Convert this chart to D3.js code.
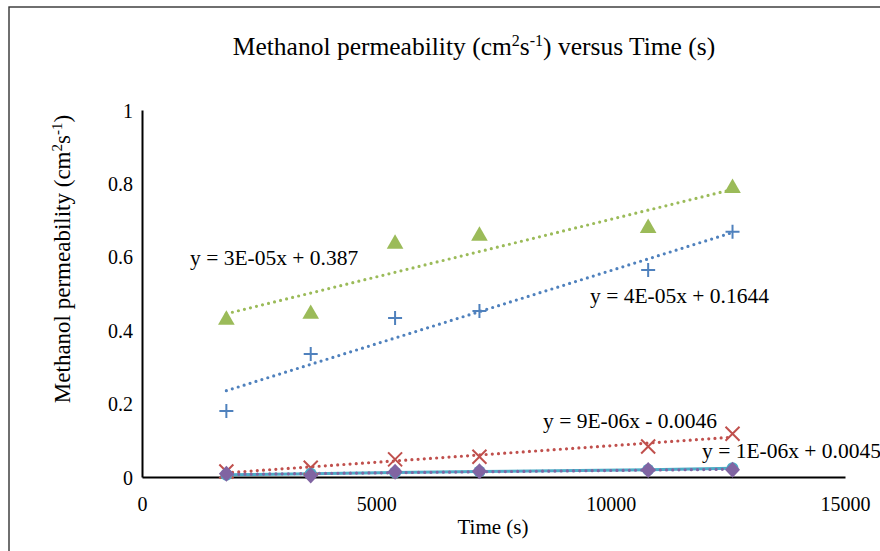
<!DOCTYPE html>
<html>
<head>
<meta charset="utf-8">
<script src="https://cdn.jsdelivr.net/npm/d3@7"></script>
<style>
  body { margin: 0; background: #fff; }
  svg text { font-family: "Liberation Serif", "Times New Roman", serif !important; fill: #000; }
</style>
</head>
<body>
<div id="chart-area"></div>
<script>
// data
var times = [1800, 3600, 5400, 7200, 10800, 12600];
var seriesBlue = [0.180, 0.335, 0.433, 0.452, 0.564, 0.668];
var seriesRed = [0.015, 0.025, 0.048, 0.055, 0.083, 0.118];
var seriesGreen = [0.428, 0.444, 0.635, 0.657, 0.678, 0.787];
var seriesPurple = [0.009, 0.004, 0.014, 0.016, 0.019, 0.020];
var seriesCyan = [0.006, 0.009, 0.012, 0.015, 0.020, 0.024];
var xTicks = [0, 5000, 10000, 15000];
var yTicks = [0, 0.2, 0.4, 0.6, 0.8, 1];
var trendLabels = ["y = 3E-05x + 0.387", "y = 4E-05x + 0.1644", "y = 9E-06x - 0.0046", "y = 1E-06x + 0.0045"];

var FONT = "Liberation Serif, Times New Roman, serif";
var margin = { left: 142, top: 110, right: 34, bottom: 74 };
var W = 880, H = 551;
var width = W - margin.left - margin.right,
    height = H - margin.top - margin.bottom;

var svg = d3.select("#chart-area").append("svg")
    .attr("width", W)
    .attr("height", H)
    .attr("font-family", FONT);

svg.append("rect").attr("width", W).attr("height", H).attr("fill", "#fff");
// chart frame (runs off the right and bottom of the picture)
svg.append("rect")
    .attr("x", 9).attr("y", 7)
    .attr("width", 1000).attr("height", 1000)
    .attr("fill", "none")
    .attr("stroke", "#333")
    .attr("stroke-width", 1.4);

var g = svg.append("g").attr("transform", "translate(" + margin.left + "," + margin.top + ")");

var x = d3.scaleLinear().domain([0, 15000]).range([0, 703]);
var y = d3.scaleLinear().domain([0, 1]).range([height, 0]);

// Title
svg.append("text")
    .attr("x", 474).attr("y", 55)
    .attr("text-anchor", "middle")
    .attr("font-size", "25.5px")
    .html('Methanol permeability (cm<tspan dy="-9" font-size="16px">2</tspan><tspan dy="9">s</tspan><tspan dy="-9" font-size="16px">-1</tspan><tspan dy="9">) versus Time (s)</tspan>');

// Axes (no tick marks)
var bottomAxis = d3.axisBottom(x).tickValues(xTicks).tickSize(0).tickPadding(20).tickFormat(d3.format("d"));
var leftAxis = d3.axisLeft(y).tickValues(yTicks).tickSize(0).tickPadding(9).tickFormat(function(d){ return d; });

var xg = g.append("g").attr("transform", "translate(0," + height + ")").call(bottomAxis);
var yg = g.append("g").call(leftAxis);
[xg, yg].forEach(function(a){
    a.attr("font-family", FONT).attr("font-size", 20);
    a.select(".domain").attr("stroke", "#000").attr("stroke-width", 2);
    a.selectAll("text").attr("font-family", FONT).attr("font-size", "20px");
});
yg.selectAll("text").attr("dy", "0.35em");

// X label
g.append("text")
    .attr("x", 351).attr("y", height + 57)
    .attr("text-anchor", "middle")
    .attr("font-size", "21px")
    .text("Time (s)");
// Y label
g.append("text")
    .attr("transform", "rotate(-90)")
    .attr("x", -149).attr("y", -72)
    .attr("text-anchor", "middle")
    .attr("font-size", "23px")
    .html('Methanol permeability (cm<tspan dy="-8" font-size="15px">2</tspan><tspan dy="8">s</tspan><tspan dy="-8" font-size="15px">-1</tspan><tspan dy="8">)</tspan>');

function pts(vals) {
    return vals.map(function(v, i){ return { t: times[i], v: v }; });
}
function fit(vals) {
    var mx = d3.mean(times), my = d3.mean(vals);
    var sxy = d3.sum(times, function(t, i){ return (t - mx) * (vals[i] - my); });
    var sxx = d3.sum(times, function(t){ return (t - mx) * (t - mx); });
    var b = sxy / sxx;
    return { b: b, a: my - b * mx };
}

var line = d3.line().x(function(d){ return x(d.t); }).y(function(d){ return y(d.v); });

// cyan series: straight lines with markers
g.append("path")
    .datum(pts(seriesCyan))
    .attr("d", line)
    .attr("fill", "none")
    .attr("stroke", "#4BACC6")
    .attr("stroke-width", 3);

// linear trendlines (dotted)
var trends = [
    { vals: seriesGreen, color: "#9BBB59" },
    { vals: seriesBlue, color: "#4F81BD" },
    { vals: seriesRed, color: "#C0504D" },
    { vals: seriesPurple, color: "#8064A2" }
];
trends.forEach(function(s){
    var f = fit(s.vals);
    var t0 = d3.min(times), t1 = d3.max(times);
    g.append("path")
        .datum([{ t: t0, v: f.a + f.b * t0 }, { t: t1, v: f.a + f.b * t1 }])
        .attr("d", line)
        .attr("fill", "none")
        .attr("stroke", s.color)
        .attr("stroke-width", 3.2)
        .attr("stroke-linecap", "round")
        .attr("stroke-dasharray", "0,6.2");
});

// markers
var plusPath = "M-7,0H7M0,-7V7";
var timesPath = "M-7,-7L7,7M-7,7L7,-7";
var diamondPath = "M0,-8L7.5,0L0,8L-7.5,0Z";

g.selectAll(".plus").data(pts(seriesBlue)).enter().append("path")
    .attr("transform", function(d){ return "translate(" + x(d.t) + "," + y(d.v) + ")"; })
    .attr("d", plusPath)
    .attr("stroke", "#4F81BD").attr("stroke-width", 2).attr("fill", "none");

g.selectAll(".cross").data(pts(seriesRed)).enter().append("path")
    .attr("transform", function(d){ return "translate(" + x(d.t) + "," + y(d.v) + ")"; })
    .attr("d", timesPath)
    .attr("stroke", "#C0504D").attr("stroke-width", 2).attr("fill", "none");

g.selectAll(".tri").data(pts(seriesGreen)).enter().append("path")
    .attr("transform", function(d){ return "translate(" + x(d.t) + "," + y(d.v) + ")"; })
    .attr("d", d3.symbol().type(d3.symbolTriangle).size(120))
    .attr("fill", "#9BBB59");

g.selectAll(".circ").data(pts(seriesCyan)).enter().append("circle")
    .attr("cx", function(d){ return x(d.t); })
    .attr("cy", function(d){ return y(d.v); })
    .attr("r", 6)
    .attr("fill", "#4BACC6");

g.selectAll(".dia").data(pts(seriesPurple)).enter().append("path")
    .attr("transform", function(d){ return "translate(" + x(d.t) + "," + y(d.v) + ")"; })
    .attr("d", diamondPath)
    .attr("fill", "#8064A2");

// trendline equations
var labelPos = [[48, 155], [448, 193], [401, 318], [560, 348]];
trendLabels.forEach(function(txt, i){
    g.append("text")
        .attr("x", labelPos[i][0]).attr("y", labelPos[i][1])
        .attr("font-size", "21.5px")
        .text(txt);
});
</script>
</body>
</html>
